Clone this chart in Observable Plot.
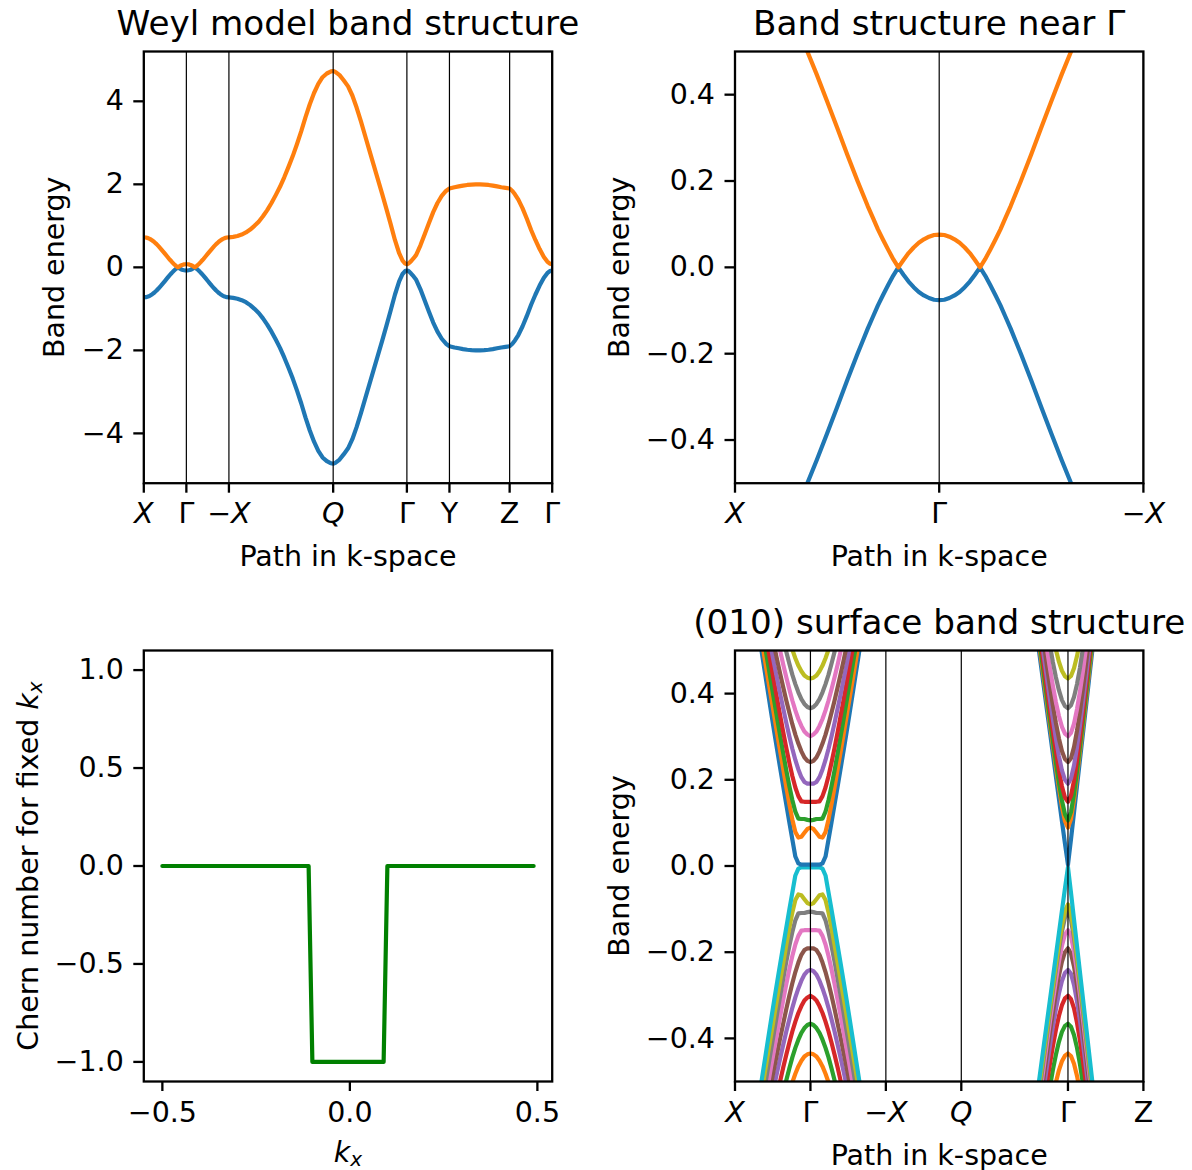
<!DOCTYPE html>
<html><head><meta charset="utf-8">
<script src="https://cdn.jsdelivr.net/npm/d3@7"></script>
<script src="https://cdn.jsdelivr.net/npm/@observablehq/plot@0.6"></script>
<style>
html,body{margin:0;padding:0;background:#fff;}
#wrap{position:relative;width:1192px;height:1170px;background:#fff;overflow:hidden;}
.panel{position:absolute;}
.panel svg{max-width:none !important;display:block;}
</style></head><body><div id="wrap"></div>
<script>
// ---------------- Panel 1 & 2: bulk bands along the k-path ----------------
const bulkTickPos = [0, 0.5, 1.0, 2.2247, 3.0907, 3.5907, 4.2978, 4.7978];
const bulkTickLabels = ["X", "Γ", "−X", "Q", "Γ", "Y", "Z", "Γ"];
const nearTickPos = [0, 0.5, 1.0];
const nearTickLabels = ["X", "Γ", "−X"];

const pathPos = [0,0.025,0.05,0.075,0.1,0.125,0.15,0.175,0.2,0.225,0.25,0.275,
  0.3,0.3125,0.325,0.3375,0.35,0.3625,0.375,0.3875,0.4,0.4125,0.425,0.4375,0.45,0.4625,0.475,0.4875,0.5,
  0.5125,0.525,0.5375,0.55,0.5625,0.575,0.5875,0.6,0.6125,0.625,0.6375,0.65,0.6625,0.675,0.6875,0.7,
  0.725,0.75,0.775,0.8,0.825,0.85,0.875,0.9,0.925,0.95,0.975,1.0,
  1.05,1.1,1.15,1.2,1.25,1.3,1.35,1.4,1.45,1.5,1.55,1.6,1.65,1.7,1.75,1.8,1.85,1.9,1.95,2.0,2.05,2.1,2.15,2.2,2.2247,
  2.25,2.3,2.35,2.4,2.45,2.5,2.55,2.6,2.65,2.7,2.75,2.8,2.85,2.9,2.95,3.0,3.04,3.07,3.0907,
  3.11,3.14,3.17,3.2,3.25,3.3,3.35,3.4,3.45,3.5,3.55,3.5907,
  3.65,3.7,3.75,3.8,3.85,3.9,3.95,4.0,4.05,4.1,4.15,4.2,4.25,4.2978,
  4.33,4.36,4.4,4.45,4.5,4.55,4.6,4.65,4.7,4.74,4.77,4.7978];

const bandUpper = [0.724,0.719,0.704,0.680,0.647,0.606,0.559,0.505,0.447,0.386,0.324,0.261,
  0.200,0.171,0.142,0.115,0.088,0.064,0.041,0.019,0.0,0.017,0.033,0.046,0.057,0.065,0.071,0.075,0.076,
  0.075,0.071,0.065,0.057,0.046,0.033,0.017,0.0,0.019,0.041,0.064,0.088,0.115,0.142,0.171,0.200,
  0.261,0.324,0.386,0.447,0.505,0.559,0.606,0.647,0.680,0.704,0.719,0.724,
  0.735,0.755,0.79,0.84,0.91,1.0,1.1,1.23,1.38,1.55,1.74,1.94,2.17,2.42,2.68,2.97,3.28,3.62,3.93,4.2,4.42,4.58,4.67,4.72,4.73,
  4.71,4.63,4.5,4.36,4.14,3.85,3.52,3.17,2.82,2.47,2.12,1.77,1.41,1.04,0.66,0.34,0.16,0.09,0.076,
  0.09,0.15,0.22,0.30,0.53,0.8,1.07,1.33,1.55,1.72,1.84,1.9,
  1.93,1.95,1.97,1.985,1.995,2.0,2.0,1.995,1.985,1.97,1.95,1.93,1.915,1.9,
  1.84,1.76,1.63,1.42,1.17,0.9,0.66,0.44,0.25,0.14,0.09,0.076];

const bandLower = [-0.724,-0.719,-0.704,-0.680,-0.647,-0.606,-0.559,-0.505,-0.447,-0.386,-0.324,-0.261,
  -0.200,-0.171,-0.142,-0.115,-0.088,-0.064,-0.041,-0.019,-0.0,-0.017,-0.033,-0.046,-0.057,-0.065,-0.071,-0.075,-0.076,
  -0.075,-0.071,-0.065,-0.057,-0.046,-0.033,-0.017,-0.0,-0.019,-0.041,-0.064,-0.088,-0.115,-0.142,-0.171,-0.200,
  -0.261,-0.324,-0.386,-0.447,-0.505,-0.559,-0.606,-0.647,-0.680,-0.704,-0.719,-0.724,
  -0.735,-0.755,-0.79,-0.84,-0.91,-1.0,-1.1,-1.23,-1.38,-1.55,-1.74,-1.94,-2.17,-2.42,-2.68,-2.97,-3.28,-3.62,-3.93,-4.2,-4.42,-4.58,-4.67,-4.72,-4.73,
  -4.71,-4.63,-4.5,-4.36,-4.14,-3.85,-3.52,-3.17,-2.82,-2.47,-2.12,-1.77,-1.41,-1.04,-0.66,-0.34,-0.16,-0.09,-0.076,
  -0.09,-0.15,-0.22,-0.30,-0.53,-0.8,-1.07,-1.33,-1.55,-1.72,-1.84,-1.9,
  -1.93,-1.95,-1.97,-1.985,-1.995,-2.0,-2.0,-1.995,-1.985,-1.97,-1.95,-1.93,-1.915,-1.9,
  -1.84,-1.76,-1.63,-1.42,-1.17,-0.9,-0.66,-0.44,-0.25,-0.14,-0.09,-0.076];

// ---------------- Panel 3: Chern number ----------------
const chernKx = [-0.5, -0.11, -0.10, 0.09, 0.10, 0.49];
const chernVal = [0, 0, -1, -1, 0, 0];

// ---------------- Panel 4: (010) slab bands ----------------
const surfTickPos = [0, 0.5, 1.0, 1.5, 2.2071, 2.7071];
const surfTickLabels = ["X", "Γ", "−X", "Q", "Γ", "Z"];
const surfK1 = [0,0.02,0.04,0.06,0.08,0.1,0.12,0.14,0.16,0.18,0.2,0.22,0.24,0.26,0.28,0.3,0.32,0.34,0.36];
const surfK2 = [0,0.02,0.04,0.06,0.08,0.1,0.12,0.14,0.16,0.18,0.2,0.22];

// conduction levels (lowest first) around first Γ, along kx
const g1Cond = [
  [0.003,0.003,0.003,0.003,0.006,0.022,0.062,0.102,0.143,0.184,0.226,0.268,0.311,0.355,0.4,0.445,0.49,0.535,0.58],
  [0.089,0.086,0.077,0.068,0.066,0.079,0.108,0.144,0.183,0.224,0.265,0.306,0.348,0.39,0.432,0.474,0.517,0.559],
  [0.106,0.107,0.109,0.109,0.11,0.126,0.153,0.186,0.222,0.261,0.301,0.341,0.383,0.424,0.466,0.508,0.55],
  [0.149,0.149,0.149,0.15,0.162,0.182,0.209,0.24,0.274,0.31,0.348,0.386,0.425,0.464,0.504,0.544],
  [0.191,0.191,0.195,0.206,0.224,0.246,0.272,0.301,0.332,0.365,0.398,0.433,0.468,0.504,0.54,0.576],
  [0.241,0.244,0.252,0.266,0.284,0.305,0.329,0.356,0.384,0.414,0.445,0.477,0.51,0.543,0.577],
  [0.301,0.305,0.312,0.325,0.341,0.361,0.384,0.41,0.438,0.467,0.498,0.53,0.563],
  [0.366,0.369,0.376,0.387,0.403,0.422,0.444,0.47,0.497,0.526,0.557],
  [0.435,0.437,0.442,0.452,0.465,0.482,0.502,0.524,0.549,0.575],
  [0.52,0.522,0.528,0.54,0.555,0.575]];
const g1Val = [
  [-0.003,-0.003,-0.003,-0.003,-0.006,-0.022,-0.062,-0.102,-0.143,-0.184,-0.226,-0.268,-0.311,-0.355,-0.4,-0.445,-0.49,-0.535,-0.58],
  [-0.089,-0.086,-0.077,-0.068,-0.066,-0.079,-0.108,-0.144,-0.183,-0.224,-0.265,-0.306,-0.348,-0.39,-0.432,-0.474,-0.517,-0.559],
  [-0.106,-0.107,-0.109,-0.109,-0.11,-0.126,-0.153,-0.186,-0.222,-0.261,-0.301,-0.341,-0.383,-0.424,-0.466,-0.508,-0.55],
  [-0.149,-0.149,-0.149,-0.15,-0.162,-0.182,-0.209,-0.24,-0.274,-0.31,-0.348,-0.386,-0.425,-0.464,-0.504,-0.544],
  [-0.191,-0.191,-0.195,-0.206,-0.224,-0.246,-0.272,-0.301,-0.332,-0.365,-0.398,-0.433,-0.468,-0.504,-0.54,-0.576],
  [-0.241,-0.244,-0.252,-0.266,-0.284,-0.305,-0.329,-0.356,-0.384,-0.414,-0.445,-0.477,-0.51,-0.543,-0.577],
  [-0.301,-0.305,-0.312,-0.325,-0.341,-0.361,-0.384,-0.41,-0.438,-0.467,-0.498,-0.53,-0.563],
  [-0.366,-0.369,-0.376,-0.387,-0.403,-0.422,-0.444,-0.47,-0.497,-0.526,-0.557],
  [-0.435,-0.437,-0.442,-0.452,-0.465,-0.482,-0.502,-0.524,-0.549,-0.575],
  [-0.52,-0.522,-0.528,-0.54,-0.555,-0.575]];
// around second Γ: toward Q (left) and toward Z (right)
const g2CondLeft = [
  [0.003,0.052,0.104,0.156,0.208,0.26,0.312,0.364,0.416,0.468,0.52,0.572],
  [0.089,0.104,0.138,0.182,0.23,0.28,0.33,0.382,0.433,0.485,0.537,0.59],
  [0.106,0.12,0.152,0.194,0.241,0.29,0.341,0.393,0.445,0.498,0.551],
  [0.149,0.159,0.185,0.222,0.266,0.313,0.362,0.413,0.465,0.517,0.57],
  [0.191,0.2,0.222,0.255,0.295,0.34,0.387,0.437,0.487,0.539],
  [0.241,0.248,0.267,0.296,0.332,0.373,0.418,0.466,0.516,0.567],
  [0.301,0.307,0.323,0.348,0.38,0.418,0.46,0.505,0.553],
  [0.366,0.371,0.385,0.408,0.438,0.473,0.513,0.557],
  [0.435,0.44,0.453,0.474,0.502,0.535,0.573],
  [0.52,0.524,0.535,0.555,0.58]];
const g2CondRight = [
  [0.003,0.062,0.124,0.186,0.248,0.31,0.372,0.434,0.496,0.558],
  [0.089,0.109,0.154,0.209,0.267,0.327,0.388,0.45,0.512,0.574],
  [0.106,0.125,0.167,0.22,0.278,0.338,0.399,0.461,0.523,0.586],
  [0.149,0.163,0.198,0.245,0.3,0.358,0.418,0.479,0.541,0.604],
  [0.191,0.203,0.233,0.276,0.327,0.382,0.44,0.5,0.562],
  [0.241,0.25,0.276,0.314,0.36,0.413,0.469,0.527,0.588],
  [0.301,0.309,0.33,0.364,0.406,0.454,0.507,0.563],
  [0.366,0.373,0.392,0.422,0.461,0.507,0.557],
  [0.435,0.441,0.459,0.487,0.523,0.565],
  [0.52,0.525,0.54,0.565,0.6]];
const g2ValLeft = [
  [-0.003,-0.052,-0.104,-0.156,-0.208,-0.26,-0.312,-0.364,-0.416,-0.468,-0.52,-0.572],
  [-0.089,-0.104,-0.138,-0.182,-0.23,-0.28,-0.33,-0.382,-0.433,-0.485,-0.537,-0.59],
  [-0.106,-0.12,-0.152,-0.194,-0.241,-0.29,-0.341,-0.393,-0.445,-0.498,-0.551],
  [-0.149,-0.159,-0.185,-0.222,-0.266,-0.313,-0.362,-0.413,-0.465,-0.517,-0.57],
  [-0.191,-0.2,-0.222,-0.255,-0.295,-0.34,-0.387,-0.437,-0.487,-0.539],
  [-0.241,-0.248,-0.267,-0.296,-0.332,-0.373,-0.418,-0.466,-0.516,-0.567],
  [-0.301,-0.307,-0.323,-0.348,-0.38,-0.418,-0.46,-0.505,-0.553],
  [-0.366,-0.371,-0.385,-0.408,-0.438,-0.473,-0.513,-0.557],
  [-0.435,-0.44,-0.453,-0.474,-0.502,-0.535,-0.573],
  [-0.52,-0.524,-0.535,-0.555,-0.58]];
const g2ValRight = [
  [-0.003,-0.062,-0.124,-0.186,-0.248,-0.31,-0.372,-0.434,-0.496,-0.558],
  [-0.089,-0.109,-0.154,-0.209,-0.267,-0.327,-0.388,-0.45,-0.512,-0.574],
  [-0.106,-0.125,-0.167,-0.22,-0.278,-0.338,-0.399,-0.461,-0.523,-0.586],
  [-0.149,-0.163,-0.198,-0.245,-0.3,-0.358,-0.418,-0.479,-0.541,-0.604],
  [-0.191,-0.203,-0.233,-0.276,-0.327,-0.382,-0.44,-0.5,-0.562],
  [-0.241,-0.25,-0.276,-0.314,-0.36,-0.413,-0.469,-0.527,-0.588],
  [-0.301,-0.309,-0.33,-0.364,-0.406,-0.454,-0.507,-0.563],
  [-0.366,-0.373,-0.392,-0.422,-0.461,-0.507,-0.557],
  [-0.435,-0.441,-0.459,-0.487,-0.523,-0.565],
  [-0.52,-0.525,-0.54,-0.565,-0.6]];

const tab10 = ["#1f77b4","#ff7f0e","#2ca02c","#d62728","#9467bd","#8c564b","#e377c2","#7f7f7f","#bcbd22","#17becf"];

// ---------------- helpers ----------------
const FONT = "DejaVu Sans";
const FS = 28.5, TITLE_FS = 34.2, LW = 4.2, FRAME_W = 2.3;
const italicLabels = new Set(["X", "−X", "Q"]);
const fmt0 = d => (d < 0 ? "−" : "") + Math.abs(d);
const fmt1 = d => (d < 0 ? "−" : "") + Math.abs(d).toFixed(1);
const SVGNS = "http://www.w3.org/2000/svg";

function tspan(txt, italic, size, dy) {
  const t = document.createElementNS(SVGNS, "tspan");
  t.textContent = txt;
  if (italic) t.setAttribute("font-style", "italic");
  if (size) t.setAttribute("font-size", size);
  if (dy) t.setAttribute("dy", dy);
  return t;
}
function postProcess(svg) {
  svg.querySelectorAll('g[aria-label="x-axis tick label"] text').forEach(t => {
    if (italicLabels.has(t.textContent)) t.setAttribute("font-style", "italic");
  });
  svg.querySelectorAll("text").forEach(t => {
    const s = t.textContent;
    if (s.endsWith("k_x")) {
      const pre = s.slice(0, -3);
      while (t.firstChild) t.removeChild(t.firstChild);
      if (pre) t.appendChild(tspan(pre));
      t.appendChild(tspan("k", true));
      t.appendChild(tspan("x", true, "20px", "0.22em"));
    }
  });
}
function place(left, top, svg) {
  const d = document.createElement("div");
  d.className = "panel";
  d.style.left = left + "px"; d.style.top = top + "px";
  d.appendChild(svg);
  document.getElementById("wrap").appendChild(d);
  postProcess(svg);
}
const baseStyle = {fontFamily: FONT, background: "transparent", overflow: "visible", color: "black"};
function xTickAxis(pos, labels) {
  const m = new Map(pos.map((p, i) => [p, labels[i]]));
  return Plot.axisX({ticks: pos, tickFormat: d => m.get(d), tickSize: 10, tickPadding: 10,
    fontSize: FS, strokeWidth: FRAME_W, label: null});
}
function yAxis(ticks, f) {
  return Plot.axisY({ticks, tickFormat: f, tickSize: 10, tickPadding: 10, fontSize: FS,
    strokeWidth: FRAME_W, label: null});
}
function titleMark(t) {
  return Plot.text([t], {text: d => d, frameAnchor: "top", dy: -17, lineAnchor: "bottom", textAnchor: "middle", fontSize: TITLE_FS});
}
function xLabel(t, dy) {
  return Plot.text([t], {text: d => d, frameAnchor: "bottom", dy, lineAnchor: "bottom", textAnchor: "middle", fontSize: FS});
}
function yLabel(t, dx) {
  return Plot.text([t], {text: d => d, frameAnchor: "left", dx, rotate: -90, lineAnchor: "bottom", textAnchor: "middle", fontSize: FS});
}

// tables
const bulkRows = pathPos.map((p, i) => ({p, up: bandUpper[i], lo: bandLower[i]}));
const chernRows = chernKx.map((k, i) => ({k, c: chernVal[i]}));

const G1 = surfTickPos[1], G2 = surfTickPos[4];
const surfRows = [];
function addBand(id, color, a1, aL, aR) {
  for (let i = a1.length - 1; i >= 1; --i) surfRows.push({id, color, p: G1 - surfK1[i], e: a1[i]});
  for (let i = 0; i < a1.length; ++i) surfRows.push({id, color, p: G1 + surfK1[i], e: a1[i]});
  for (let i = aL.length - 1; i >= 1; --i) surfRows.push({id, color, p: G2 - surfK2[i], e: aL[i]});
  for (let i = 0; i < aR.length; ++i) surfRows.push({id, color, p: G2 + surfK2[i], e: aR[i]});
}
for (let j = 0; j < 10; ++j) { const n = 9 - j; addBand("v" + j, tab10[j], g1Val[n], g2ValLeft[n], g2ValRight[n]); }
for (let n = 0; n < 10; ++n) addBand("c" + n, tab10[n], g1Cond[n], g2CondLeft[n], g2CondRight[n]);

// ---------------- Panel 1 ----------------
place(0, 0, Plot.plot({
  width: 596, height: 585, marginLeft: 143.3, marginRight: 44.3, marginTop: 51, marginBottom: 102.3,
  x: {domain: [0, 4.7978]}, y: {domain: [-5.2, 5.2]},
  style: baseStyle,
  marks: [
    Plot.line(bulkRows, {x: "p", y: "lo", stroke: tab10[0], strokeWidth: LW, clip: true}),
    Plot.line(bulkRows, {x: "p", y: "up", stroke: tab10[1], strokeWidth: LW, clip: true}),
    Plot.ruleX(bulkTickPos, {stroke: "black", strokeWidth: 1.2}),
    Plot.frame({stroke: "black", strokeWidth: FRAME_W}),
    xTickAxis(bulkTickPos, bulkTickLabels),
    yAxis([-4, -2, 0, 2, 4], fmt0),
    titleMark("Weyl model band structure"),
    xLabel("Path in k-space", 83),
    yLabel("Band energy", -80)
  ]
}));

// ---------------- Panel 2 ----------------
place(596, 0, Plot.plot({
  width: 596, height: 585, marginLeft: 138.5, marginRight: 49.1, marginTop: 51, marginBottom: 102.3,
  x: {domain: [0, 1]}, y: {domain: [-0.5, 0.5]},
  style: baseStyle,
  marks: [
    Plot.line(bulkRows, {x: "p", y: "lo", stroke: tab10[0], strokeWidth: LW, clip: true}),
    Plot.line(bulkRows, {x: "p", y: "up", stroke: tab10[1], strokeWidth: LW, clip: true}),
    Plot.ruleX(nearTickPos, {stroke: "black", strokeWidth: 1.2}),
    Plot.frame({stroke: "black", strokeWidth: FRAME_W}),
    xTickAxis(nearTickPos, nearTickLabels),
    yAxis([-0.4, -0.2, 0, 0.2, 0.4], fmt1),
    titleMark("Band structure near Γ"),
    xLabel("Path in k-space", 83),
    yLabel("Band energy", -106)
  ]
}));

// ---------------- Panel 3 ----------------
place(0, 585, Plot.plot({
  width: 596, height: 585, marginLeft: 143.3, marginRight: 44.3, marginTop: 65, marginBottom: 89,
  x: {domain: [-0.5495, 0.5395]}, y: {domain: [-1.1, 1.1]},
  style: baseStyle,
  marks: [
    Plot.line(chernRows, {x: "k", y: "c", stroke: "#008000", strokeWidth: LW, clip: true}),
    Plot.frame({stroke: "black", strokeWidth: FRAME_W}),
    Plot.axisX({ticks: [-0.5, 0, 0.5], tickFormat: fmt1, tickSize: 10, tickPadding: 10, fontSize: FS, strokeWidth: FRAME_W, label: null}),
    yAxis([-1, -0.5, 0, 0.5, 1], fmt1),
    xLabel("k_x", 80),
    yLabel("Chern number for fixed k_x", -106)
  ]
}));

// ---------------- Panel 4 ----------------
place(596, 585, Plot.plot({
  width: 596, height: 585, marginLeft: 138.5, marginRight: 49.1, marginTop: 65, marginBottom: 89,
  x: {domain: [0, 2.7071]}, y: {domain: [-0.5, 0.5]},
  color: {type: "identity"},
  style: baseStyle,
  marks: [
    Plot.line(surfRows, {x: "p", y: "e", z: "id", stroke: "color", strokeWidth: LW, clip: true}),
    Plot.ruleX(surfTickPos, {stroke: "black", strokeWidth: 1.2}),
    Plot.frame({stroke: "black", strokeWidth: FRAME_W}),
    xTickAxis(surfTickPos, surfTickLabels),
    yAxis([-0.4, -0.2, 0, 0.2, 0.4], fmt1),
    titleMark("(010) surface band structure"),
    xLabel("Path in k-space", 83),
    yLabel("Band energy", -106)
  ]
}));
</script></body></html>
